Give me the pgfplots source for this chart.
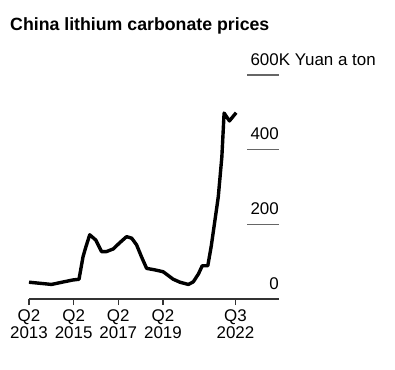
\documentclass[border=0pt]{standalone}
\usepackage{fontspec}
\setmainfont{Liberation Sans}
\usepackage{pgfplots}
\pgfplotsset{compat=1.18}
\definecolor{gridgray}{HTML}{666666}
\begin{document}
\begin{tikzpicture}
\path[use as bounding box] (0,0) rectangle (395bp,370bp);
\node[anchor=base west, font=\fontsize{17.8}{20}\selectfont\bfseries, inner sep=0pt] at (10bp,339bp) {China lithium carbonate prices};
\begin{axis}[
  at={(29bp,71bp)}, anchor=south west,
  scale only axis, width=250bp, height=224bp,
  xmin=2013.25, xmax=2024.45, ymin=0, ymax=600,
  axis x line*=bottom, axis y line=none,
  axis line style={-, draw=black!80, line width=1.2bp},
  xtick={2013.25,2015.25,2017.25,2019.25,2022.5},
  xticklabels={Q2\\2013,Q2\\2015,Q2\\2017,Q2\\2019,Q3\\2022},
  xticklabel style={align=center, font=\fontsize{17}{17.5}\selectfont, inner sep=0bp, yshift=-4bp},
  tick align=outside, major tick length=6bp,
  tick style={draw=black!80, line width=1.2bp},
  ytick=\empty,
  clip=false,
]
\addplot[black, line width=3.4bp, line join=round] coordinates {
(2013.25,45) (2014.26,39) (2014.78,45.6) (2015.22,51) (2015.49,52.8)
(2015.67,113) (2015.78,136) (2015.97,172) (2016.24,158) (2016.50,127)
(2016.72,127) (2017.02,134) (2017.32,151) (2017.62,167) (2017.85,163)
(2018.07,145) (2018.29,113) (2018.52,82) (2018.89,78) (2019.26,73)
(2019.71,53) (2020.01,45) (2020.39,39) (2020.61,46) (2020.84,67)
(2021.01,89) (2021.26,89) (2021.41,140) (2021.54,194) (2021.73,274)
(2021.89,381) (2021.99,498) (2022.23,477) (2022.53,499)
};
\foreach \v in {200,400,600} {
  \edef\temp{\noexpand\draw[gridgray, line width=1.2bp] (axis cs:2023.02,\v) -- (axis cs:2024.45,\v);}
  \temp
}
\node[anchor=base east, inner sep=0pt, font=\fontsize{17}{17}\selectfont] at ([yshift=10bp]axis cs:2024.45,0) {0};
\node[anchor=base east, inner sep=0pt, font=\fontsize{17}{17}\selectfont] at ([yshift=10bp]axis cs:2024.45,200) {200};
\node[anchor=base east, inner sep=0pt, font=\fontsize{17}{17}\selectfont] at ([yshift=10bp]axis cs:2024.45,400) {400};
\node[anchor=base east, inner sep=0pt, font=\fontsize{17}{17}\selectfont] at ([yshift=10bp]axis cs:2024.45,600) {600\rlap{K Yuan a ton}};
\end{axis}
\end{tikzpicture}
\end{document}
